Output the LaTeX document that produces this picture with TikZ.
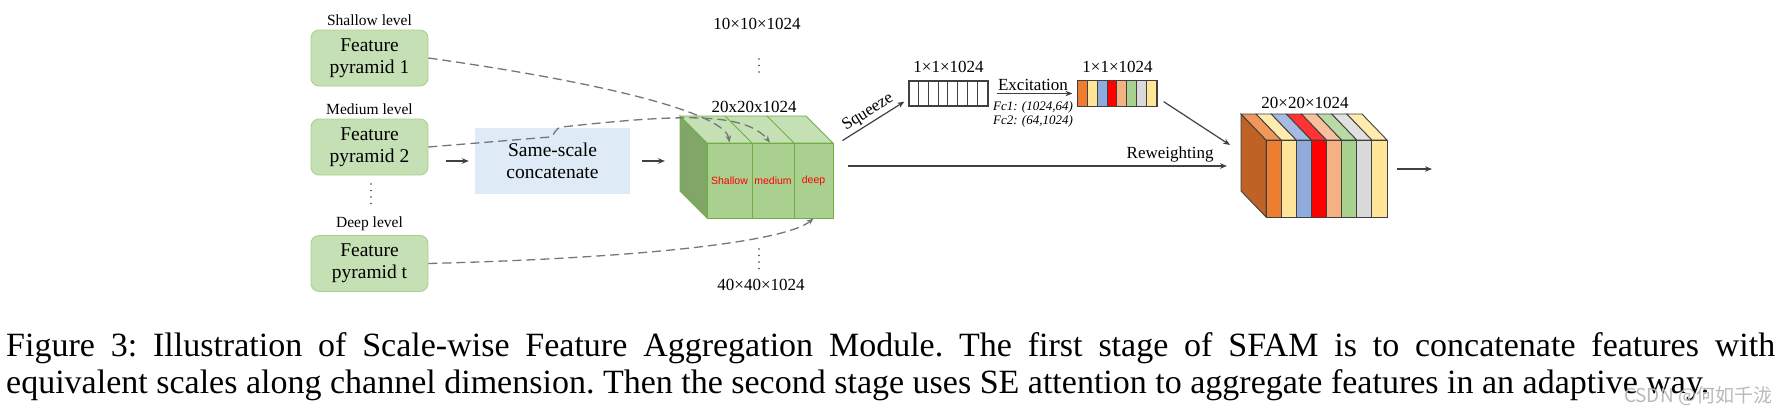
\documentclass[tikz,border=0pt]{standalone}
\usepackage{fontspec}
\setmainfont{Liberation Serif}
\setsansfont{Liberation Sans}
\newfontfamily\cjk{Noto Sans CJK SC}
\usepackage{xcolor}
\usepackage{tikz}
\usetikzlibrary{
  positioning,
  arrows.meta,
  calc
}
\definecolor{boxgreen}{RGB}{197,224,180}
\definecolor{boxedge}{RGB}{169,209,142}
\definecolor{catblue}{RGB}{222,235,247}
\definecolor{cubefront}{RGB}{169,208,142}
\definecolor{cubetop}{RGB}{197,224,180}
\definecolor{cubeside}{RGB}{128,167,104}
\definecolor{cubeedge}{RGB}{112,173,71}
\definecolor{lineg}{RGB}{64,64,64}
\definecolor{dashg}{RGB}{118,118,118}
\definecolor{sOrange}{RGB}{237,125,49}
\definecolor{sYellow}{RGB}{255,230,153}
\definecolor{sBlue}{RGB}{143,170,220}
\definecolor{sRed}{RGB}{255,0,0}
\definecolor{sPeach}{RGB}{244,177,131}
\definecolor{sGreen}{RGB}{169,209,142}
\definecolor{sGray}{RGB}{217,217,217}
\definecolor{sBrown}{RGB}{191,98,38}

\begin{document}
\begin{tikzpicture}[
  x=1pt, y=-1pt,
  >=Stealth,
  pyrbox/.style={draw=boxedge, fill=boxgreen, rounded corners=8pt, line width=0.9pt,
    minimum width=117pt, minimum height=56pt, align=center, inner sep=0pt,
    font=\fontsize{19.5}{22}\selectfont},
  lvl/.style={inner sep=1pt, font=\fontsize{15.5}{18}\selectfont},
  dimlabel/.style={inner sep=1pt, font=\fontsize{17}{20}\selectfont},
  catbox/.style={fill=catblue, minimum width=155pt, minimum height=66pt, align=center,
    inner sep=0pt, font=\fontsize{19.5}{22}\selectfont},
  part/.style={draw=cubeedge, fill=cubefront, line width=0.9pt, minimum height=75pt,
    inner sep=0pt, text=red, font=\sffamily\fontsize{10.5}{12}\selectfont},
  flow/.style={draw=lineg, line width=1.2pt, -{Stealth[length=7pt, width=5.5pt]}},
  skip/.style={draw=dashg, line width=1.3pt, dash pattern=on 9pt off 5pt,
    -{Stealth[length=7pt, width=5.5pt]}},
  vec/.style={draw=lineg, line width=1.2pt, minimum width=79pt, minimum height=25pt,
    inner sep=0pt},
  dots/.style={draw=lineg, line width=1.6pt, line cap=round, dash pattern=on 0pt off 6.5pt}
]
  \useasboundingbox (0,0) rectangle (1790,415);

  % pyramids
  \node[pyrbox] (pyr1) at (369.5,58) {Feature\\pyramid 1};
  \node[pyrbox] (pyr2) at (369.5,147) {Feature\\pyramid 2};
  \node[pyrbox] (pyr3) at (369.5,263.5) {Feature\\pyramid t};
  \node[lvl, above=3pt of pyr1] (lv1) {Shallow level};
  \node[lvl, above=3pt of pyr2] (lv2) {Medium level};
  \node[lvl, above=3pt of pyr3] (lv3) {Deep level};
  \draw[dots] (371,184) -- (371,205);

  \node[catbox] (cat) at (552.5,161) {Same-scale\\concatenate};
  \draw[flow, shorten <=18pt, shorten >=6pt] (pyr2.east |- cat.west) -- (cat.west);

  % green cube
  \coordinate (cubeL) at (680,161);
  \filldraw[fill=cubeside, draw=cubeedge, line width=0.9pt]
    (680,116) -- (707,143) -- (707,218) -- (680,191) -- cycle;
  \filldraw[fill=cubetop, draw=cubeedge, line width=0.9pt]
    (680,116) -- (806,116) -- (833,143) -- (707,143) -- cycle;
  \draw[cubeedge, line width=0.9pt] (752,143) -- (725,116) (794,143) -- (767,116);
  \node[part, minimum width=45pt] (sh) at (729.5,180.5) {Shallow};
  \node[part, minimum width=42pt] (me) at (773,180.5) {medium};
  \node[part, minimum width=39pt] (de) at (813.5,180.5) {deep};
  \draw[flow, shorten <=12pt, shorten >=15pt] (cat.east) -- (cubeL);

  \node[dimlabel] (d10) at (757,24) {10×10×1024};
  \draw[dots] (759,59) -- (759,78);
  \node[dimlabel] (d20) at (754,107) {20x20x1024};
  \draw[dots] (759,249) -- (759,270);
  \node[dimlabel] (d40) at (761,285) {40×40×1024};

  % skip links
  \draw[skip] (pyr1.east) .. controls (620,85) and (725,115) .. (sh.north);
  \draw[skip] (pyr2.east) -- (550,137) .. controls (555,136) and (554,128) .. (562,127)
    .. controls (680,114) and (745,112) .. ([xshift=-3pt]me.north);
  \draw[skip] (pyr3.east) .. controls (640,258) and (785,242) .. (de.south);

  % squeeze and excitation
  \node[vec] (vin) at (948.5,93.5) {};
  \foreach \k in {1,...,7}
    \draw[lineg, line width=1pt] ([xshift=\k*9.875pt]vin.north west) -- ([xshift=\k*9.875pt]vin.south west);
  \node[dimlabel, above=7pt of vin] (d1a) {1×1×1024};
  \draw[flow] ([xshift=9pt, yshift=2pt]de.north east) --
    node[midway, sloped, above, inner sep=2pt, font=\fontsize{17}{20}\selectfont] {Squeeze}
    ([xshift=-4pt, yshift=5pt]vin.south west);

  \node[vec] (vout) at (1117.5,93.5) {};
  \foreach \c [count=\k from 0] in {sOrange,sYellow,sBlue,sRed,sPeach,sGreen,sGray,sYellow}
    \filldraw[fill=\c, draw=lineg, line width=1pt]
      ([xshift=\k*9.875pt]vout.north west) rectangle ([xshift=\k*9.875pt+9.875pt]vout.south west);
  \draw[lineg, line width=1.2pt] (vout.north west) rectangle (vout.south east);
  \node[dimlabel, above=7pt of vout] (d1b) {1×1×1024};
  \draw[flow, shorten <=8pt, shorten >=5pt] (vin.east) --
    node[midway, above, inner sep=2pt, font=\fontsize{17}{20}\selectfont] (exc) {Excitation}
    (vout.west);
  \node[below=1pt of exc.south, yshift=-6pt, align=left, inner sep=1pt,
    font=\itshape\fontsize{13}{14}\selectfont] (fc) {Fc1: (1024,64)\\Fc2: (64,1024)};

  % reweighted cube
  \filldraw[fill=sBrown, draw=lineg, line width=0.9pt]
    (1241,114) -- (1266,140) -- (1266,217) -- (1241,191) -- cycle;
  \foreach \c [count=\i from 0] in {sOrange,sYellow,sBlue,sRed,sPeach,sGreen,sGray,sYellow}{
    \pgfmathsetmacro\xa{1266+15.125*\i}
    \pgfmathsetmacro\xb{1266+15.125*(\i+1)}
    \filldraw[fill=\c!80!white, draw=lineg, line width=0.9pt]
      (\xa-25,114) -- (\xb-25,114) -- (\xb,140) -- (\xa,140) -- cycle;
    \filldraw[fill=\c, draw=lineg, line width=0.9pt] (\xa,140) rectangle (\xb,217);
  }
  \node[dimlabel] (d20b) at (1305,103) {20×20×1024};
  \coordinate (rwin) at (1230,145);
  \coordinate (rwtail) at (848,166);
  \coordinate (rwhead) at (1227,166);
  \coordinate (outtail) at (1397,169);
  \coordinate (outhead) at (1432,169);
  \draw[flow] ([xshift=6pt, yshift=5pt]vout.south east) -- (rwin);
  \draw[flow] (rwtail) --
    node[pos=0.85, above, inner sep=3pt, font=\fontsize{17}{20}\selectfont] {Reweighting}
    (rwhead);
  \draw[flow] (outtail) -- (outhead);

  % caption
  \node[anchor=north west, inner sep=0pt, text width=1769pt, align=justify,
    font=\fontsize{34}{37}\selectfont] (cap) at (6,332)
    {\frenchspacing\hyphenpenalty=10000 Figure 3: Illustration of Scale-wise Feature Aggregation Module. The first stage of SFAM is to concatenate features with\linebreak
    equivalent scales along channel dimension. Then the second stage uses SE attention to aggregate features in an adaptive way.};
  \node[text=gray!55, font=\cjk\fontsize{19}{22}\selectfont, inner sep=0pt] (wm) at (1698,396) {CSDN @何如千泷};
\end{tikzpicture}
\end{document}
